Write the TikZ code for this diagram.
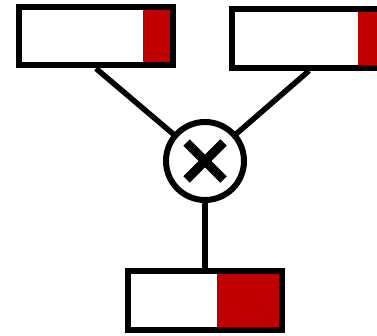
\documentclass[tikz,border=0pt]{standalone}
\usetikzlibrary{backgrounds}
\definecolor{boxred}{RGB}{192,0,0}
\tikzset{
  meter/.style args={#1}{draw=black, line width=6pt, rectangle, inner sep=0pt,
    minimum width=154pt, minimum height=58.5pt, fill=white,
    path picture={\fill[boxred] ([xshift=-#1]path picture bounding box.north east) rectangle (path picture bounding box.south east);}},
  link/.style={draw=black, line width=5.5pt},
  mult/.style={draw=black, line width=6pt, circle, minimum size=78pt, inner sep=0pt, fill=white},
  cross/.style={draw=black, line width=9pt}
}
\begin{document}
\begin{tikzpicture}[x=1pt,y=-1pt]
\useasboundingbox (0,0) rectangle (377,336);
\clip (0,0) rectangle (377,336);
\node[mult] (m) at (205,161) {};
\node[meter=30pt] (a) at (96,36.25) {};
\node[meter=28pt] (b) at (309,38.5) {};
\node[meter=65pt] (c) at (205,300.5) {};
\begin{scope}[on background layer]
\draw[link] (a.south) -- (m.center);
\draw[link] (b.south) -- (m.center);
\draw[link] (c.north) -- (m.center);
\end{scope}
\draw[cross] ([shift={(-18.5,-18.5)}]m.center) -- ([shift={(18.5,18.5)}]m.center);
\draw[cross] ([shift={(-18.5,18.5)}]m.center) -- ([shift={(18.5,-18.5)}]m.center);
\end{tikzpicture}
\end{document}
